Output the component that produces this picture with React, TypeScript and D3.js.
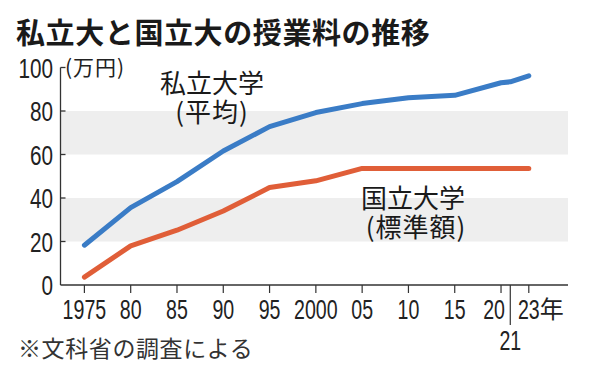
import React, { useEffect, useRef } from 'react';
import * as d3 from 'd3';

// 年度
const years = [1975, 1980, 1985, 1990, 1995, 2000, 2005, 2010, 2015, 2020, 2021, 2023];
// 私立大学（平均）万円
const privateFee = [18.3, 35.6, 47.5, 61.6, 72.8, 79.3, 83.4, 86.1, 87.2, 93.0, 93.4, 96.2];
// 国立大学（標準額）万円
const nationalFee = [3.6, 18.0, 25.2, 34.0, 44.8, 47.9, 53.6, 53.6, 53.6, 53.6, 53.6, 53.6];

const tickYears = [1975, 1980, 1985, 1990, 1995, 2000, 2005, 2010, 2015, 2020, 2023];
const tickLabels = ['1975', '80', '85', '90', '95', '2000', '05', '10', '15', '20', '23'];
const yTicks = [0, 20, 40, 60, 80, 100];
const bands = [[20, 40], [60, 80]];

const W = 591;
const H = 365;
const jp = '"Noto Sans CJK JP", "Noto Sans", sans-serif';
const num = '"Liberation Sans", Arial, sans-serif';

const App: React.FC = () => {
  const svgRef = useRef<SVGSVGElement | null>(null);

  useEffect(() => {
    const svg = d3.select(svgRef.current);
    svg.selectAll('*').remove();

    const x = d3.scaleLinear().domain([1975, 2023]).range([84.4, 528.8]);
    const y = d3.scaleLinear().domain([0, 100]).range([285, 67.5]);
    const left = 60.5;
    const right = 568;

    svg.append('rect').attr('width', W).attr('height', H).attr('fill', '#fff');

    // title
    svg.append('text')
      .attr('x', 16).attr('y', 44)
      .attr('font-family', jp).attr('font-weight', 700)
      .attr('font-size', 29).attr('letter-spacing', 0.6)
      .attr('fill', '#1a1a1a')
      .text('私立大と国立大の授業料の推移');

    // grey bands
    svg.selectAll('.band').data(bands).enter().append('rect')
      .attr('x', left).attr('width', right - left)
      .attr('y', d => y(d[1])).attr('height', d => y(d[0]) - y(d[1]))
      .attr('fill', '#eeeeee');

    // axes
    svg.append('line').attr('x1', left).attr('x2', left)
      .attr('y1', y(100)).attr('y2', y(0)).attr('stroke', '#333').attr('stroke-width', 1.3);
    svg.append('line').attr('x1', left).attr('x2', right)
      .attr('y1', y(0)).attr('y2', y(0)).attr('stroke', '#333').attr('stroke-width', 1.3);

    svg.selectAll('.ytick').data(yTicks.filter(d => d > 0)).enter().append('line')
      .attr('x1', left).attr('x2', left + 5)
      .attr('y1', d => y(d)).attr('y2', d => y(d))
      .attr('stroke', '#333').attr('stroke-width', 1.3);

    svg.selectAll('.ylab').data(yTicks).enter().append('g')
      .attr('transform', d => `translate(53,${y(d) + 10})`)
      .append('text')
      .attr('transform', 'scale(0.74,1)')
      .attr('text-anchor', 'end')
      .attr('font-family', num).attr('font-size', 28).attr('fill', '#222')
      .text(d => d);

    svg.append('text')
      .attr('x', 65).attr('y', 75)
      .attr('font-family', jp).attr('font-size', 21).attr('letter-spacing', 1)
      .attr('fill', '#222')
      .text('(万円)');

    // x ticks
    svg.selectAll('.xtick').data(tickYears).enter().append('line')
      .attr('x1', d => x(d)).attr('x2', d => x(d))
      .attr('y1', y(0)).attr('y2', y(0) + 8)
      .attr('stroke', '#333').attr('stroke-width', 1.2);
    svg.append('line')
      .attr('x1', x(2021)).attr('x2', x(2021))
      .attr('y1', y(0)).attr('y2', y(0) + 40)
      .attr('stroke', '#333').attr('stroke-width', 1.2);

    svg.selectAll('.xlab').data(tickYears).enter().append('g')
      .attr('transform', d => `translate(${x(d) + (d === 2020 ? -7 : 0)},319)`)
      .append('text')
      .attr('transform', 'scale(0.7,1)')
      .attr('text-anchor', 'middle')
      .attr('font-family', num).attr('font-size', 28).attr('fill', '#222')
      .text((d, i) => tickLabels[i]);

    svg.append('g').attr('transform', `translate(${x(2021)},350)`)
      .append('text')
      .attr('transform', 'scale(0.7,1)')
      .attr('text-anchor', 'middle')
      .attr('font-family', num).attr('font-size', 28).attr('fill', '#222')
      .text('21');

    svg.append('text')
      .attr('x', x(2023) + 11).attr('y', 318)
      .attr('font-family', jp).attr('font-size', 24).attr('fill', '#222')
      .text('年');

    // lines
    const line = d3.line<number>()
      .x((d, i) => x(years[i]))
      .y(d => y(d));

    svg.append('path').datum(privateFee)
      .attr('d', line)
      .attr('fill', 'none').attr('stroke', '#3a7cc6').attr('stroke-width', 5)
      .attr('stroke-linecap', 'round').attr('stroke-linejoin', 'round');

    svg.append('path').datum(nationalFee)
      .attr('d', line)
      .attr('fill', 'none').attr('stroke', '#e05e38').attr('stroke-width', 5)
      .attr('stroke-linecap', 'round').attr('stroke-linejoin', 'round');

    // series labels, two lines in one text
    const label = (cx: number, cy: number, l1: string, l2: string, dx2: number) => {
      const t = svg.append('text')
        .attr('text-anchor', 'middle')
        .attr('font-family', jp).attr('font-size', 26).attr('fill', '#1a1a1a');
      t.append('tspan').attr('x', cx).attr('y', cy).text(l1);
      t.append('tspan').attr('x', cx + dx2).attr('y', cy + 29).attr('letter-spacing', 1).text(l2);
    };

    label(212, 93, '私立大学', '(平均)', 0);
    label(413, 208, '国立大学', '(標準額)', 3);

    // note
    svg.append('text')
      .attr('x', 18).attr('y', 357)
      .attr('font-family', jp).attr('font-size', 23).attr('letter-spacing', 0.6)
      .attr('fill', '#333')
      .text('※文科省の調査による');
  }, []);

  return (
    <svg ref={svgRef} width={W} height={H}
      style={{ position: 'absolute', left: 0, top: 0, display: 'block' }} />
  );
};

export default App;
